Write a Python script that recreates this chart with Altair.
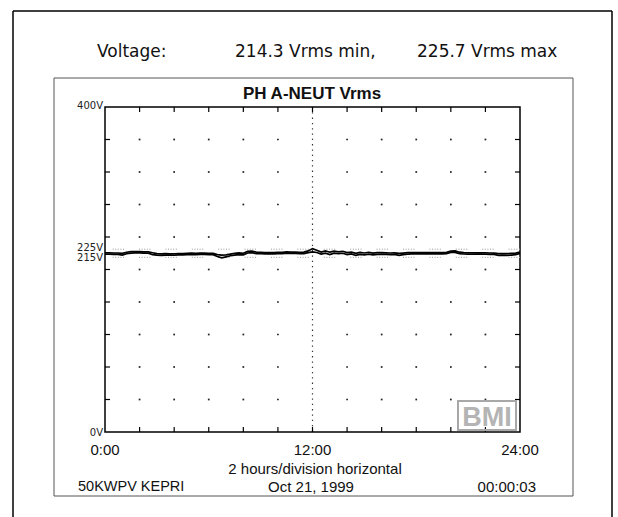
import altair as alt
import pandas as pd

# ---------------- data ----------------
header_texts = ["Voltage:", "214.3 Vrms min,", "225.7 Vrms max"]
title_text = "PH A-NEUT Vrms"
x_label_hours = [0, 12, 24]
x_label_texts = ["0:00", "12:00", "24:00"]
y_label_upper_volts = [400, 225]
y_label_upper_texts = ["400V", "225V"]
y_label_lower_volts = [215, 0]
y_label_lower_texts = ["215V", "0V"]
ref_volts = [225, 215]
grid_hours = [2, 4, 6, 8, 10, 14, 16, 18, 20, 22]
tick_hours = [2, 4, 6, 8, 10, 12, 14, 16, 18, 20, 22]
grid_volts = [40, 80, 120, 160, 200, 240, 280, 320, 360]
center_hour = [12]
axis_caption = "2 hours/division horizontal"
footer_texts = ["50KWPV KEPRI", "Oct 21, 1999", "00:00:03"]
logo_text = "BMI"

sample_hours = [i / 4 for i in range(97)]
v_max = [
    220.4, 220.4, 220.3, 220.3, 219.8, 221.2, 221.9, 222.0, 222.0, 221.8,
    221.6, 220.6, 219.5, 219.2, 219.6, 219.3, 219.4, 219.5, 219.6, 220.0,
    220.1, 220.0, 220.1, 220.1, 220.0, 219.8, 218.3, 217.6, 217.9, 219.0,
    219.8, 220.4, 220.0, 222.3, 222.5, 221.3, 221.0, 220.8, 220.8, 220.9,
    221.0, 221.2, 221.8, 221.4, 221.3, 221.1, 221.4, 222.9, 225.7, 223.6,
    221.5, 222.9, 221.3, 222.6, 221.8, 222.4, 220.8, 221.4, 219.9, 221.0,
    220.3, 221.2, 220.1, 220.8, 220.8, 220.5, 220.3, 220.4, 219.8, 220.2,
    220.7, 220.8, 220.9, 220.8, 220.8, 220.9, 220.8, 220.8, 220.9, 221.1,
    222.6, 222.9, 221.3, 220.7, 220.6, 220.6, 220.5, 220.6, 220.4, 220.3,
    220.1, 219.5, 219.6, 219.5, 219.8, 220.2, 221.4,
]
v_min = [
    218.8, 218.8, 218.7, 218.7, 217.8, 219.4, 220.1, 220.4, 220.4, 220.2,
    220.0, 218.4, 217.6, 217.5, 217.8, 217.7, 217.8, 217.9, 218.0, 218.4,
    218.5, 218.4, 218.5, 218.5, 218.4, 218.2, 216.0, 214.3, 215.6, 216.9,
    217.8, 218.4, 218.0, 220.3, 220.7, 219.5, 219.4, 219.2, 219.2, 219.3,
    219.4, 219.6, 220.0, 219.8, 219.7, 219.5, 219.6, 220.7, 221.6, 220.9,
    218.9, 220.1, 218.4, 220.2, 219.4, 220.0, 218.4, 219.2, 217.3, 218.6,
    218.1, 219.0, 217.9, 218.6, 219.0, 218.7, 218.3, 218.6, 217.4, 218.2,
    218.9, 219.2, 219.3, 219.2, 219.2, 219.3, 219.2, 219.2, 219.3, 219.5,
    221.0, 221.1, 219.5, 219.1, 219.0, 219.0, 218.9, 219.0, 218.8, 218.7,
    218.5, 217.3, 217.6, 217.5, 217.8, 218.2, 219.8,
]

# ---------------- layout ----------------
W, H = 415, 325
SANS = "Liberation Sans"
WIDE = "DejaVu Sans"

xs = alt.Scale(domain=[0, 24], nice=False, zero=False)
ys = alt.Scale(domain=[0, 400], nice=False, zero=False)

df_line = pd.DataFrame({"h": sample_hours, "vmax": v_max, "vmin": v_min})
df_grid = pd.DataFrame([{"h": h, "v": v} for h in grid_hours for v in grid_volts])
df_th = pd.DataFrame({"h": tick_hours})
df_tv = pd.DataFrame({"v": grid_volts})
df_one = pd.DataFrame({"k": [0]})


def label(text, x, y, size, align="left", weight="normal", font=SANS, color="#111"):
    return alt.Chart(pd.DataFrame({"t": [text]})).mark_text(
        align=align, baseline="middle", fontSize=size, font=font,
        fontWeight=weight, color=color
    ).encode(x=alt.value(x), y=alt.value(y), text="t:N")


def frame_rule(x, y, x2, y2, color="black", width=1.5):
    return alt.Chart(df_one).mark_rule(color=color, strokeWidth=width).encode(
        x=alt.value(x), y=alt.value(y), x2=alt.value(x2), y2=alt.value(y2)
    )


layers = []

# outer frame (left, top, right) and inner box
layers.append(frame_rule(-92, -96, -92, 420))
layers.append(frame_rule(-92, -96, 507, -96))
layers.append(frame_rule(507, -96, 507, 420))
layers.append(alt.Chart(df_one).mark_rect(fillOpacity=0, stroke="#555", strokeWidth=1).encode(
    x=alt.value(-51), x2=alt.value(468), y=alt.value(-29), y2=alt.value(389)))

# grid dots
layers.append(alt.Chart(df_grid).mark_square(size=3, color="#222", opacity=1).encode(
    x=alt.X("h:Q", scale=xs, axis=None), y=alt.Y("v:Q", scale=ys, axis=None)))

# center dotted vertical line
layers.append(alt.Chart(pd.DataFrame({"h": center_hour})).mark_rule(
    color="#333", strokeWidth=1.2, strokeDash=[1.3, 4]).encode(
    x=alt.X("h:Q", scale=xs, axis=None)))

# reference dotted lines at 225V / 215V
layers.append(alt.Chart(pd.DataFrame({"v": ref_volts})).mark_rule(
    color="#9a9a9a", strokeWidth=1, strokeDash=[1, 1.6, 1, 1.6, 1, 1.6, 1, 1.6, 1, 15]).encode(
    y=alt.Y("v:Q", scale=ys, axis=None)))

# ticks inside the frame
layers.append(alt.Chart(df_th).mark_rule(color="black", strokeWidth=1.2).encode(
    x=alt.X("h:Q", scale=xs, axis=None), y=alt.value(0), y2=alt.value(5)))
layers.append(alt.Chart(df_th).mark_rule(color="black", strokeWidth=1.2).encode(
    x=alt.X("h:Q", scale=xs, axis=None), y=alt.value(H), y2=alt.value(H - 5)))
layers.append(alt.Chart(df_tv).mark_rule(color="black", strokeWidth=1.2).encode(
    y=alt.Y("v:Q", scale=ys, axis=None), x=alt.value(0), x2=alt.value(5)))
layers.append(alt.Chart(df_tv).mark_rule(color="black", strokeWidth=1.2).encode(
    y=alt.Y("v:Q", scale=ys, axis=None), x=alt.value(W), x2=alt.value(W - 5)))

# voltage traces (max and min)
layers.append(alt.Chart(df_line).mark_line(color="black", strokeWidth=1.7).encode(
    x=alt.X("h:Q", scale=xs, axis=None), y=alt.Y("vmax:Q", scale=ys, axis=None)))
layers.append(alt.Chart(df_line).mark_line(color="black", strokeWidth=1.7).encode(
    x=alt.X("h:Q", scale=xs, axis=None), y=alt.Y("vmin:Q", scale=ys, axis=None)))

# BMI logo
layers.append(alt.Chart(df_one).mark_rect(fillOpacity=0, stroke="#a8a8a8", strokeWidth=2).encode(
    x=alt.value(353), x2=alt.value(411), y=alt.value(294), y2=alt.value(323)))
layers.append(alt.Chart(pd.DataFrame({"t": [logo_text]})).mark_text(
    align="center", baseline="alphabetic", fontSize=27, font=SANS,
    fontWeight="bold", color="#b4b4b4").encode(
    x=alt.value(382), y=alt.value(319), text="t:N"))

# y labels
layers.append(alt.Chart(pd.DataFrame({"v": y_label_upper_volts, "t": y_label_upper_texts})).mark_text(
    align="right", baseline="middle", fontSize=10, font=WIDE, color="#222", dy=-1).encode(
    x=alt.value(-2), y=alt.Y("v:Q", scale=ys, axis=None), text="t:N"))
layers.append(alt.Chart(pd.DataFrame({"v": y_label_lower_volts, "t": y_label_lower_texts})).mark_text(
    align="right", baseline="middle", fontSize=10, font=WIDE, color="#222", dy=0.5).encode(
    x=alt.value(-2), y=alt.Y("v:Q", scale=ys, axis=None), text="t:N"))

# x labels
layers.append(alt.Chart(pd.DataFrame({"h": x_label_hours, "t": x_label_texts})).mark_text(
    align="center", baseline="middle", fontSize=15, font=SANS, color="#111").encode(
    x=alt.X("h:Q", scale=xs, axis=None), y=alt.value(343), text="t:N"))

# header, title, captions
layers.append(label(header_texts[0], -8, -55, 17, font=WIDE))
layers.append(label(header_texts[1], 130, -55, 17, font=WIDE))
layers.append(label(header_texts[2], 312, -55, 17, font=WIDE))
layers.append(label(title_text, 207, -13, 17, align="center", weight="bold"))
layers.append(label(axis_caption, 210, 362, 15, align="center"))
layers.append(label(footer_texts[0], -27, 380, 14.5))
layers.append(label(footer_texts[1], 206, 380, 15, align="center"))
layers.append(label(footer_texts[2], 431, 380, 15, align="right"))

chart = alt.layer(*layers).properties(
    width=W, height=H,
    autosize=alt.AutoSizeParams(type="none"),
    padding={"left": 105, "top": 107, "right": 98, "bottom": 85},
    background="white",
).configure_view(stroke="black", strokeWidth=1.5)

chart.save("out.html", embed_options={"renderer": "svg", "actions": False})
